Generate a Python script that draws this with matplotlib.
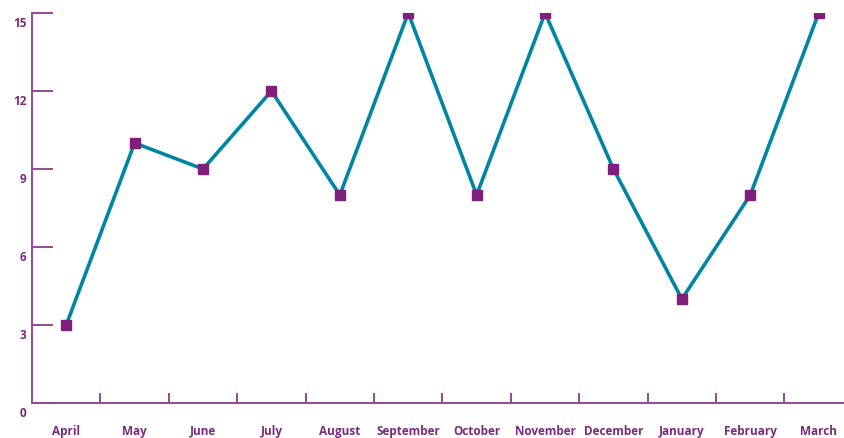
import matplotlib
matplotlib.use("Agg")
import matplotlib.pyplot as plt
import matplotlib.transforms as mtransforms
import numpy as np

months = ["April", "May", "June", "July", "August", "September", "October",
          "November", "December", "January", "February", "March"]
values = [3, 10, 9, 12, 8, 15, 8, 15, 9, 4, 8, 15]
y_ticks = [0, 3, 6, 9, 12, 15]

line_color = "#0085a3"
marker_color = "#7d1f7b"
axis_color = "#92479a"
text_color = "#7a2b7c"

plt.rcParams["font.family"] = ["Open Sans", "DejaVu Sans"]

fig = plt.figure(figsize=(8.44, 4.39), dpi=100)
W, H = 844, 439
ax = fig.add_axes([32 / W, 35 / H, (W - 32) / W, 390 / H])

x = np.arange(len(months))
ax.plot(x, values, color=line_color, lw=2.6, zorder=2, solid_joinstyle="miter")
ax.plot(x, values, ls="none", marker="s", ms=6.5, color=marker_color, zorder=3)

ax.set_xlim(-0.5, 11.37)
ax.set_ylim(0, 15)

for s in ["top", "right"]:
    ax.spines[s].set_visible(False)
for s in ["left", "bottom"]:
    ax.spines[s].set_color(axis_color)
    ax.spines[s].set_linewidth(1.4)

ax.set_yticks(y_ticks)
ax.set_yticklabels([str(v) for v in y_ticks])
ax.tick_params(axis="y", direction="in", length=15, width=1.4, color=axis_color,
               labelcolor=text_color, labelsize=8.5, pad=4)
off = mtransforms.ScaledTranslation(0, -8 / 100, fig.dpi_scale_trans)
for lab in ax.get_yticklabels():
    lab.set_fontweight("bold")
    lab.set_transform(lab.get_transform() + off)

ax.set_xticks(x)
ax.set_xticklabels(months)
ax.set_xticks(np.arange(0.5, 11, 1), minor=True)
ax.tick_params(axis="x", which="major", length=0, labelcolor=text_color,
               labelsize=8.5, pad=15)
ax.tick_params(axis="x", which="minor", direction="in", length=7, width=1.4,
               color=axis_color)
for lab in ax.get_xticklabels():
    lab.set_fontweight("bold")

fig.savefig("out.png", dpi=100)
